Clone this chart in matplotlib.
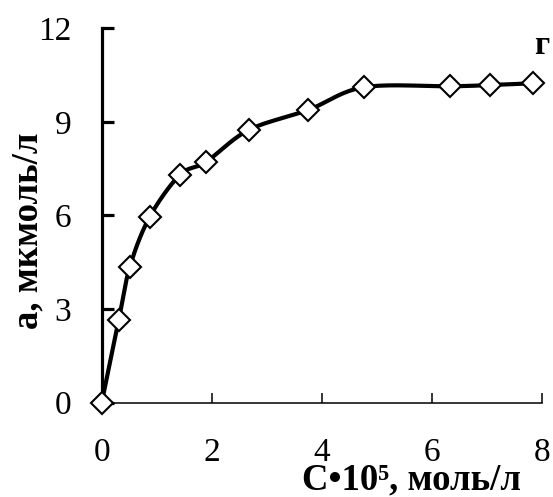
import matplotlib
matplotlib.use('Agg')
import matplotlib.pyplot as plt
import numpy as np

plt.rcParams['font.family'] = ['Liberation Serif', 'DejaVu Serif']

# data
conc = [0, 0.31, 0.51, 0.87, 1.42, 1.89, 2.67, 3.75, 4.76, 6.33, 7.05, 7.84]
ads = [0, 2.66, 4.35, 5.95, 7.3, 7.71, 8.74, 9.38, 10.11, 10.14, 10.18, 10.24]
xticks = [0, 2, 4, 6, 8]
yticks = [0, 3, 6, 9, 12]


# smoothed line like the spreadsheet one (catmull-rom through the points)
def smooth(x, y, n=20):
    x = np.asarray(x, float)
    y = np.asarray(y, float)
    px = np.concatenate([[x[0]], x, [x[-1]]])
    py = np.concatenate([[y[0]], y, [y[-1]]])
    sx, sy = [], []
    t = np.linspace(0, 1, n, endpoint=False)
    for i in range(1, len(px) - 2):
        p0, p1, p2, p3 = px[i - 1:i + 3]
        q0, q1, q2, q3 = py[i - 1:i + 3]
        sx.extend(0.5 * (2 * p1 + (-p0 + p2) * t + (2 * p0 - 5 * p1 + 4 * p2 - p3) * t**2 + (-p0 + 3 * p1 - 3 * p2 + p3) * t**3))
        sy.extend(0.5 * (2 * q1 + (-q0 + q2) * t + (2 * q0 - 5 * q1 + 4 * q2 - q3) * t**2 + (-q0 + 3 * q1 - 3 * q2 + q3) * t**3))
    sx.append(x[-1])
    sy.append(y[-1])
    return sx, sy


fig = plt.figure(figsize=(5.53, 4.97), dpi=100)
ax = fig.add_axes([0.184, 0.19, 0.796, 0.753])

lx, ly = smooth(conc, ads)
ax.plot(lx, ly, color='black', lw=3, clip_on=False, zorder=2)
ax.plot(conc, ads, ls='none', marker='D', ms=11.5, mfc='white', mec='black', mew=1.5, clip_on=False, zorder=3)

ax.set_xlim(0, 8)
ax.set_ylim(0, 12)
ax.set_xticks(xticks)
ax.set_yticks(yticks)
ax.spines['top'].set_visible(False)
ax.spines['right'].set_visible(False)
ax.spines['left'].set_linewidth(2.3)
ax.spines['bottom'].set_linewidth(1.1)
ax.tick_params(axis='y', direction='in', length=8.5, width=2.3, pad=22, labelsize=24)
ax.tick_params(axis='x', direction='in', length=7, width=1.1, pad=25, labelsize=24)

ax.set_xlabel('C•10⁵, моль/л', fontsize=26.5, fontweight='bold')
ax.xaxis.set_label_coords(0.703, -0.232)
ax.xaxis.label.set_va('baseline')
ax.set_ylabel('a, мкмоль/л', fontsize=26.5, fontweight='bold')
ax.yaxis.set_label_coords(-0.167, 0.459)
ax.yaxis.label.set_va('center')

ax.text(0.999, 0.955, 'г', transform=ax.transAxes, fontsize=24, fontweight='bold', ha='center', va='center')

fig.savefig('out.png', dpi=100)
